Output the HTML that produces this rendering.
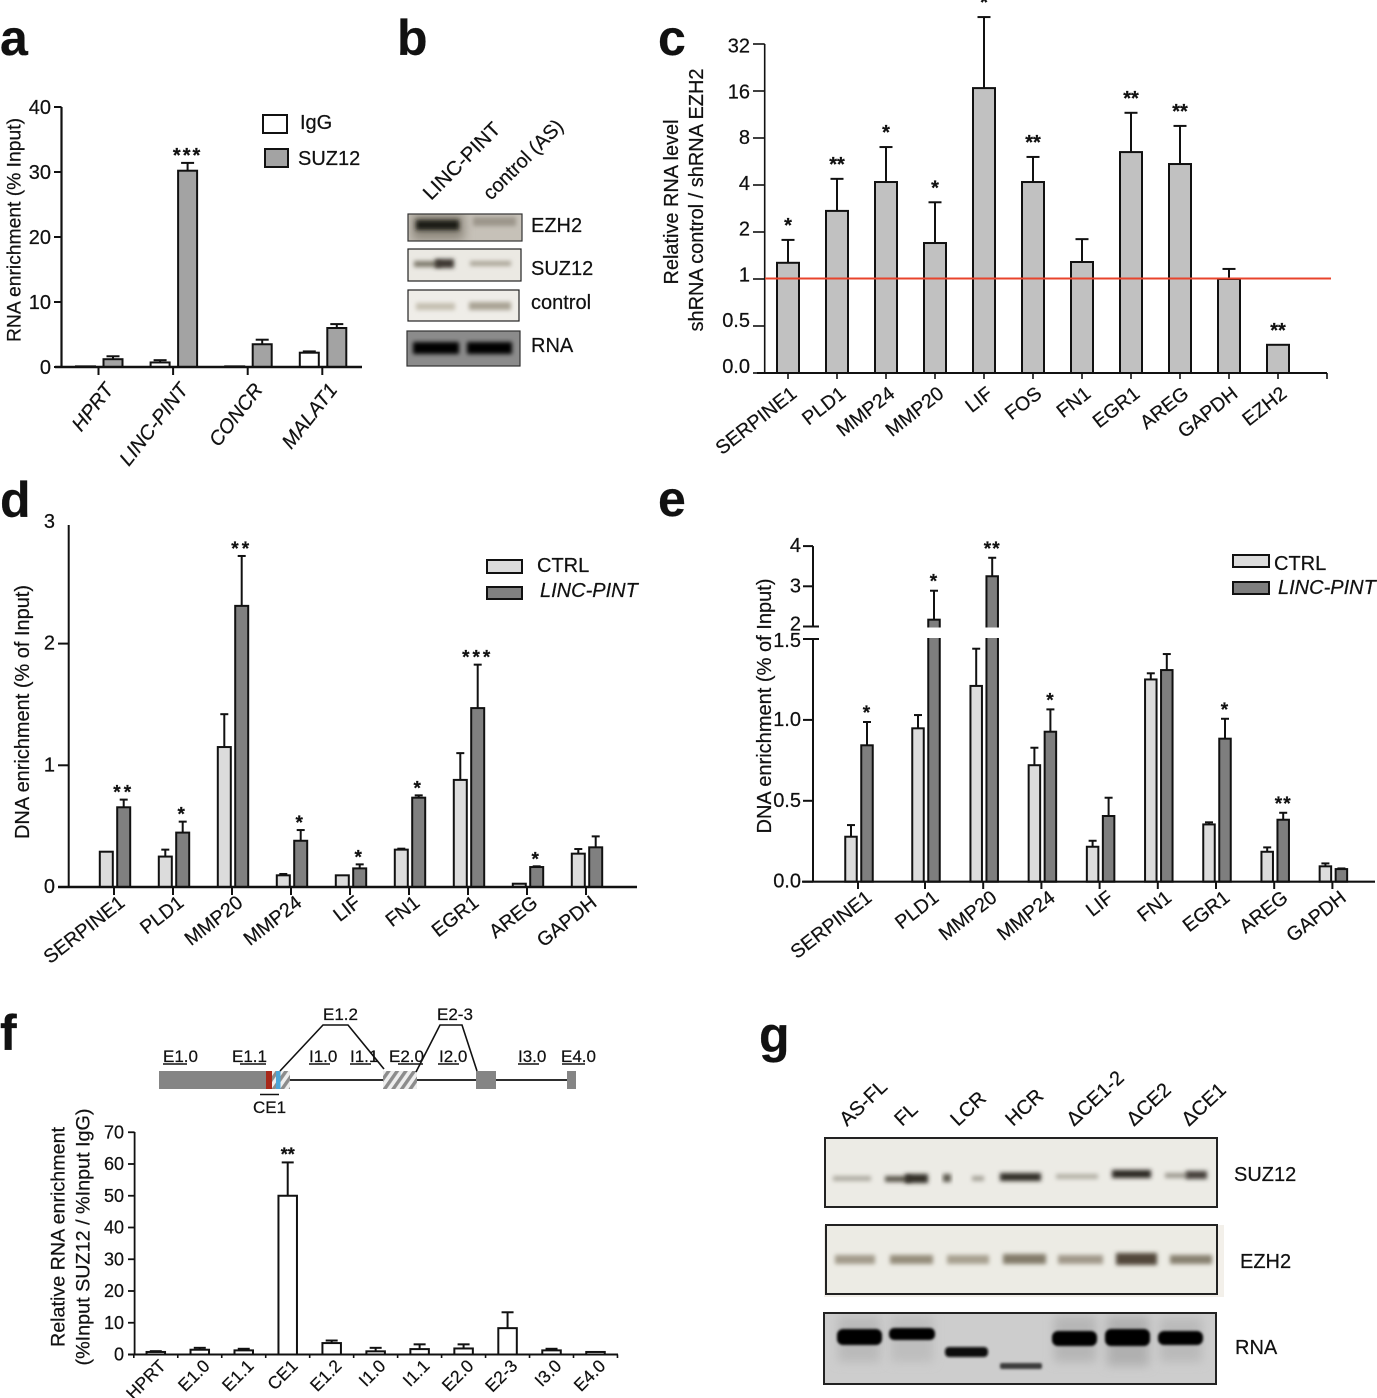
<!DOCTYPE html>
<html lang="en">
<head>
<meta charset="utf-8">
<title>Multi-panel figure</title>
<style>
html,body{margin:0;padding:0;background:#fff;width:1377px;height:1398px;overflow:hidden}
svg{display:block}
text{font-family:"Liberation Sans","DejaVu Sans",sans-serif;fill:#111;stroke:#111;stroke-width:.22px}
.band{filter:url(#blur2)}
.band1{filter:url(#blur1)}
.haze{filter:url(#blur5)}
</style>
</head>
<body>
<svg id="figure" xmlns="http://www.w3.org/2000/svg" width="1377" height="1398" viewBox="0 0 1377 1398">
<defs>
<filter id="blur1" x="-30%" y="-100%" width="160%" height="300%"><feGaussianBlur stdDeviation="1.2"/></filter>
<filter id="blur2" x="-30%" y="-100%" width="160%" height="300%"><feGaussianBlur stdDeviation="2"/></filter>
<filter id="blur5" x="-30%" y="-100%" width="160%" height="300%"><feGaussianBlur stdDeviation="5"/></filter>
<pattern id="hatch" width="7" height="7" patternUnits="userSpaceOnUse" patternTransform="rotate(35)">
<rect width="7" height="7" fill="#efefef"/><rect width="3.4" height="7" fill="#8c8c8c"/>
</pattern>
<clipPath id="clip-b-ezh2"><rect x="408" y="214" width="114" height="27"/></clipPath>
<clipPath id="clip-g-rna"><rect x="824" y="1313" width="392" height="71"/></clipPath>
</defs>

<!-- panel letters -->
<g font-weight="bold" font-size="50">
<text x="0" y="55">a</text>
<text x="397" y="55">b</text>
<text x="658" y="55">c</text>
<text x="0" y="517">d</text>
<text x="658" y="516">e</text>
<text x="0" y="1050">f</text>
<text x="759" y="1052">g</text>
</g>

<!-- panel b blots -->
<g>
<text font-size="20" transform="rotate(-45 431 201)" x="431" y="201" textLength="100" lengthAdjust="spacingAndGlyphs">LINC-PINT</text>
<text font-size="20" transform="rotate(-45 491 201)" x="491" y="201" textLength="104" lengthAdjust="spacingAndGlyphs">control (AS)</text>

<g>
<rect x="408" y="214" width="114" height="27" fill="#c6c1b8"/>
<g clip-path="url(#clip-b-ezh2)">
<rect class="haze" x="412" y="214" width="52" height="26" fill="#8d877c"/>
<rect class="band" x="416" y="220" width="43" height="10" fill="#1f1a15"/>
<rect class="band" x="473" y="217" width="43" height="9" fill="#9c968b"/>
</g>
<rect x="408" y="214" width="114" height="27" fill="none" stroke="#333" stroke-width="1.2"/>
</g>
<g>
<rect x="408" y="249" width="113" height="32" fill="#ebe9e3"/>
<rect class="band" x="414" y="261" width="27" height="6" fill="#7f7a6d"/>
<rect class="band" x="435" y="259" width="19" height="9" fill="#3e3930"/>
<rect class="band" x="470" y="261" width="41" height="5" fill="#aba699"/>
<rect x="408" y="249" width="113" height="32" fill="none" stroke="#222" stroke-width="1.2"/>
</g>
<g>
<rect x="408" y="290" width="111" height="31" fill="#efede8"/>
<rect class="band" x="416" y="303" width="39" height="7" fill="#c4bfb0"/>
<rect class="band" x="469" y="302" width="42" height="8" fill="#a9a394"/>
<rect x="408" y="290" width="111" height="31" fill="none" stroke="#222" stroke-width="1.2"/>
</g>
<g>
<rect x="407" y="331" width="113" height="35" fill="#8b8b8b"/>
<rect class="band" x="413" y="342" width="46" height="12" fill="#050505"/>
<rect class="band" x="467" y="342" width="45" height="12" fill="#050505"/>
<rect x="407" y="331" width="113" height="35" fill="none" stroke="#333" stroke-width="1.2"/>
</g>
<text font-size="20" x="531" y="232">EZH2</text>
<text font-size="20" x="531" y="275">SUZ12</text>
<text font-size="20" x="531" y="309">control</text>
<text font-size="20" x="531" y="352">RNA</text>
</g>

<!-- panel f gene diagram -->
<g font-size="17">
<line x1="290" y1="1080" x2="567" y2="1080" stroke="#111" stroke-width="1.8"/>
<rect x="159" y="1071" width="107" height="18" fill="#858585"/>
<rect x="271" y="1071" width="19" height="18" fill="url(#hatch)"/>
<rect x="266" y="1071" width="6" height="18" fill="#a8281a"/>
<rect x="276" y="1071" width="4.5" height="18" fill="#4da6d8"/>
<rect x="383" y="1071" width="34" height="18" fill="url(#hatch)"/>
<rect x="476" y="1071" width="20" height="18" fill="#858585"/>
<rect x="567" y="1071" width="9" height="18" fill="#858585"/>
<polyline points="280,1071 323,1025 348,1025 384,1069" fill="none" stroke="#111" stroke-width="1.6"/>
<polyline points="416,1072 440,1025 462,1025 477,1071" fill="none" stroke="#111" stroke-width="1.6"/>
<text x="163" y="1062">E1.0</text>
<text x="232" y="1062">E1.1</text>
<text x="309" y="1062">I1.0</text>
<text x="350" y="1062">I1.1</text>
<text x="389" y="1062">E2.0</text>
<text x="439" y="1062">I2.0</text>
<text x="518" y="1062">I3.0</text>
<text x="561" y="1062">E4.0</text>
<text x="323" y="1020">E1.2</text>
<text x="437" y="1020">E2-3</text>
<text x="253" y="1113">CE1</text>
<g stroke="#111" stroke-width="1.6">
<line x1="163" y1="1064" x2="187" y2="1064"/>
<line x1="240" y1="1064" x2="266" y2="1064"/>
<line x1="309" y1="1064" x2="330" y2="1064"/>
<line x1="350" y1="1064" x2="371" y2="1064"/>
<line x1="398" y1="1064" x2="423" y2="1064"/>
<line x1="438" y1="1064" x2="459" y2="1064"/>
<line x1="518" y1="1064" x2="539" y2="1064"/>
<line x1="562" y1="1064" x2="585" y2="1064"/>
<line x1="260" y1="1094.5" x2="279" y2="1094.5"/>
</g>
</g>

<!-- panel g blots -->
<g>
<text font-size="20" transform="rotate(-43 847 1127)" x="847" y="1127">AS-FL</text>
<text font-size="20" transform="rotate(-43 902 1127)" x="902" y="1127">FL</text>
<text font-size="20" transform="rotate(-43 958 1127)" x="958" y="1127">LCR</text>
<text font-size="20" transform="rotate(-43 1013 1127)" x="1013" y="1127">HCR</text>
<text font-size="20" transform="rotate(-43 1074 1127)" x="1074" y="1127">ΔCE1-2</text>
<text font-size="20" transform="rotate(-43 1134 1127)" x="1134" y="1127">ΔCE2</text>
<text font-size="20" transform="rotate(-43 1189 1127)" x="1189" y="1127">ΔCE1</text>

<g>
<rect x="825" y="1138" width="392" height="69" fill="#ecebe5"/>
<rect class="band" x="833" y="1176" width="38" height="5" fill="#aeaba1"/>
<rect class="band" x="885" y="1176" width="26" height="6" fill="#5c584e"/>
<rect class="band" x="905" y="1174" width="23" height="9" fill="#322e27"/>
<rect class="band" x="943" y="1174" width="8" height="8" fill="#5c584e"/>
<rect class="band" x="972" y="1176" width="12" height="5" fill="#a5a298"/>
<rect class="band" x="1000" y="1173" width="41" height="8" fill="#322e27"/>
<rect class="band" x="1056" y="1174" width="42" height="5" fill="#b3b0a6"/>
<rect class="band" x="1112" y="1170" width="39" height="8" fill="#2c2822"/>
<rect class="band" x="1165" y="1173" width="24" height="5" fill="#9c998f"/>
<rect class="band" x="1186" y="1171" width="21" height="8" fill="#45413a"/>
<rect x="825" y="1138" width="392" height="69" fill="none" stroke="#222" stroke-width="2"/>
</g>
<g>
<rect x="824" y="1225" width="400" height="72" fill="#f3f0ea"/>
<rect x="826" y="1225" width="391" height="69" fill="#ecebe4"/>
<rect class="band" x="835" y="1255" width="40" height="9" fill="#a39b8b"/>
<rect class="band" x="890" y="1255" width="43" height="9" fill="#958d7c"/>
<rect class="band" x="947" y="1255" width="42" height="9" fill="#a8a191"/>
<rect class="band" x="1003" y="1254" width="43" height="10" fill="#837b6a"/>
<rect class="band" x="1058" y="1255" width="45" height="9" fill="#a1998a"/>
<rect class="band" x="1116" y="1253" width="41" height="12" fill="#51473a"/>
<rect class="band" x="1170" y="1255" width="42" height="9" fill="#878070"/>
<rect x="826" y="1225" width="391" height="69" fill="none" stroke="#222" stroke-width="2"/>
</g>
<g>
<rect x="824" y="1313" width="392" height="71" fill="#cdcdcd"/>
<g clip-path="url(#clip-g-rna)">
<rect class="haze" x="838" y="1316" width="42" height="46" fill="#bababa"/>
<rect class="haze" x="891" y="1316" width="42" height="46" fill="#bebebe"/>
<rect class="haze" x="1054" y="1316" width="42" height="46" fill="#b6b6b6"/>
<rect class="haze" x="1107" y="1316" width="42" height="50" fill="#b0b0b0"/>
<rect class="haze" x="1160" y="1318" width="42" height="44" fill="#bababa"/>
</g>
<rect class="band1" x="837" y="1329" width="45" height="16" rx="6" fill="#050505"/>
<rect class="band1" x="889" y="1328" width="46" height="12" rx="5" fill="#050505"/>
<rect class="band1" x="945" y="1347" width="43" height="10" rx="4" fill="#0c0c0c"/>
<rect class="band1" x="1000" y="1363" width="42" height="6" rx="2" fill="#3a3a3a"/>
<rect class="band1" x="1052" y="1331" width="45" height="15" rx="6" fill="#050505"/>
<rect class="band1" x="1105" y="1329" width="45" height="17" rx="6" fill="#050505"/>
<rect class="band1" x="1158" y="1331" width="45" height="14" rx="6" fill="#050505"/>
<rect x="824" y="1313" width="392" height="71" fill="none" stroke="#222" stroke-width="2"/>
</g>
<text font-size="20" x="1234" y="1181">SUZ12</text>
<text font-size="20" x="1240" y="1268">EZH2</text>
<text font-size="20" x="1235" y="1354">RNA</text>
</g>
</svg>

<script>
/* ---------- panel a data ---------- */
const aCategories = ['HPRT', 'LINC-PINT', 'CONCR', 'MALAT1'];
const aIgG = [0.1, 0.7, 0.1, 2.2];
const aIgGUpper = [0.15, 1.05, 0.15, 2.4];
const aSuz12 = [1.2, 30.2, 3.5, 6.0];
const aSuz12Upper = [1.65, 31.4, 4.2, 6.6];
const aStars = ['', '***', '', ''];
const aTicks = [0, 10, 20, 30, 40];

/* ---------- panel c data ---------- */
const cCategories = ['SERPINE1', 'PLD1', 'MMP24', 'MMP20', 'LIF', 'FOS', 'FN1', 'EGR1', 'AREG', 'GAPDH', 'EZH2'];
const cValues = [1.27, 2.73, 4.18, 1.70, 16.7, 4.18, 1.285, 6.5, 5.45, 1.0, 0.3];
const cUpper = [1.78, 4.38, 7.0, 3.1, 47.6, 6.05, 1.8, 11.6, 9.56, 1.16, 0.3];
const cStars = ['*', '**', '*', '*', '*', '**', '', '**', '**', '', '**'];
const cTicks = [0, 0.5, 1, 2, 4, 8, 16, 32];
const cTickLabels = ['0.0', '0.5', '1', '2', '4', '8', '16', '32'];
const cReference = 1;

/* ---------- panel d data ---------- */
const dCategories = ['SERPINE1', 'PLD1', 'MMP20', 'MMP24', 'LIF', 'FN1', 'EGR1', 'AREG', 'GAPDH'];
const dCtrl = [0.29, 0.25, 1.15, 0.096, 0.096, 0.307, 0.88, 0.027, 0.274];
const dCtrlUpper = [0.29, 0.307, 1.42, 0.107, 0.10, 0.315, 1.10, 0.03, 0.312];
const dPint = [0.655, 0.447, 2.31, 0.38, 0.153, 0.734, 1.47, 0.164, 0.326];
const dPintUpper = [0.718, 0.537, 2.72, 0.468, 0.186, 0.753, 1.827, 0.17, 0.416];
const dStars = ['**', '*', '**', '*', '*', '*', '***', '*', ''];
const dTicks = [0, 1, 2, 3];

/* ---------- panel e data ---------- */
const eCategories = ['SERPINE1', 'PLD1', 'MMP20', 'MMP24', 'LIF', 'FN1', 'EGR1', 'AREG', 'GAPDH'];
const eCtrl = [0.278, 0.948, 1.21, 0.72, 0.216, 1.25, 0.354, 0.185, 0.095];
const eCtrlUpper = [0.35, 1.03, 1.44, 0.828, 0.253, 1.288, 0.367, 0.212, 0.113];
const ePint = [0.843, 2.17, 3.25, 0.927, 0.406, 1.308, 0.884, 0.383, 0.078];
const ePintUpper = [0.987, 2.89, 3.71, 1.065, 0.519, 1.407, 1.007, 0.426, 0.082];
const eStars = ['*', '*', '**', '*', '', '', '*', '**', ''];
const eTicks = [0, 0.5, 1, 1.5, 2, 3, 4];
const eTickLabels = ['0.0', '0.5', '1.0', '1.5', '2', '3', '4'];

/* ---------- panel f data ---------- */
const fCategories = ['HPRT', 'E1.0', 'E1.1', 'CE1', 'E1.2', 'I1.0', 'I1.1', 'E2.0', 'E2-3', 'I3.0', 'E4.0'];
const fValues = [0.8, 1.5, 1.3, 50, 3.6, 1, 1.7, 1.9, 8.3, 1.3, 0.8];
const fUpper = [1.05, 2.1, 1.8, 60.5, 4.4, 2.1, 3.2, 3.2, 13.3, 1.8, 0.95];
const fStars = ['', '', '', '**', '', '', '', '', '', '', ''];
const fTicks = [0, 10, 20, 30, 40, 50, 60, 70];

/* ---------- drawing helpers ---------- */
const NS = 'http://www.w3.org/2000/svg';
const figure = document.getElementById('figure');

function shape(parent, tag, geometry, name) {
  const el = document.createElementNS(NS, tag);
  for (const k in geometry) el.setAttribute(k, geometry[k]);
  
  
  parent.appendChild(el);
  return el;
}

function group(name) {
  const el = document.createElementNS(NS, 'g');
  
  
  figure.appendChild(el);
  return el;
}

function seg(parent, x1, y1, x2, y2, w, name, color) {
  return shape(parent, 'line', {x1: x1, y1: y1, x2: x2, y2: y2, stroke: color || '#111', 'stroke-width': w}, name);
}

function label(parent, str, x, y, size, name, opts) {
  const o = opts || {};
  const g = {x: x, y: y, 'font-size': size};
  if (o.anchor) g['text-anchor'] = o.anchor;
  if (o.italic) g['font-style'] = 'italic';
  if (o.bold) g['font-weight'] = 'bold';
  if (o.rot) g.transform = 'rotate(' + o.rot + ' ' + x + ' ' + y + ')';
  if (o.len) { g.textLength = o.len; g.lengthAdjust = 'spacingAndGlyphs'; }
  if (o.spacing) g['letter-spacing'] = o.spacing;
  const el = shape(parent, 'text', g, name);
  el.textContent = str;
  return el;
}

function bar(parent, cx, w, yTop, yBase, fill, sw, name) {
  return shape(parent, 'rect', {x: cx - w / 2, y: yTop, width: w, height: yBase - yTop, fill: fill, stroke: '#111', 'stroke-width': sw}, name);
}

function errorBar(parent, cx, yVal, yUp, cap, sw, name) {
  if (yVal - yUp < 0.5) return;
  seg(parent, cx, yVal, cx, yUp, sw, name + '-stem');
  seg(parent, cx - cap / 2, yUp, cx + cap / 2, yUp, sw, name + '-cap');
}

/* Draw one bar series: values/upper arrays through x & y axis functions */
function series(parent, p) {
  p.values.forEach(function (v, i) {
    const cx = p.x(i) + p.offset;
    errorBar(parent, cx, p.y(v), p.y(p.upper[i]), p.cap, p.sw, p.name + '-error-' + i);
    bar(parent, cx, p.width, p.y(v), p.base, p.fill, p.sw, p.name + '-bar-' + i);
    if (p.stars && p.stars[i]) {
      label(parent, p.stars[i], cx, p.y(p.upper[i]) - p.starGap, p.starSize, p.name + '-significance-' + i,
        {anchor: 'middle', spacing: p.starSpacing || 0, bold: true});
    }
  });
}

function legendEntry(parent, x, y, w, h, fill, str, tx, ty, italic, name) {
  shape(parent, 'rect', {x: x, y: y, width: w, height: h, fill: fill, stroke: '#111', 'stroke-width': 2}, name + '-swatch');
  label(parent, str, tx, ty, 20, name + '-label', {italic: italic});
}

/* ---------- panel a ---------- */
(function () {
  const g = group('panel-a-chart');
  const y = function (v) { return 367 - v * 6.5; };
  const x = function (i) { return 99.5 + 74.6 * i; };
  series(g, {values: aIgG, upper: aIgGUpper, x: x, y: y, offset: -14, width: 19, base: 367, fill: '#fff', sw: 2, cap: 13, name: 'igg'});
  series(g, {values: aSuz12, upper: aSuz12Upper, x: x, y: y, offset: 13.5, width: 19, base: 367, fill: '#a3a3a3', sw: 2, cap: 13, name: 'suz12',
    stars: aStars, starGap: 1, starSize: 20, starSpacing: 2});
  seg(g, 61.5, 107, 61.5, 368, 2.2, 'y-axis');
  seg(g, 55, 367, 362, 367, 2.6, 'x-axis');
  aTicks.forEach(function (t) {
    seg(g, 54, y(t), 61.5, y(t), 2, 'y-tick-' + t);
    label(g, String(t), 51, y(t) + 7, 20, 'y-tick-label-' + t, {anchor: 'end'});
  });
  aCategories.forEach(function (c, i) {
    seg(g, x(i) - 1, 367, x(i) - 1, 375, 2, 'x-tick-' + c);
    label(g, c, x(i) + 15, 390, 20, 'x-tick-label-' + c, {anchor: 'end', italic: true, rot: -52});
  });
  label(g, 'RNA enrichment  (% Input)', 20.5, 230, 19, 'y-axis-title', {anchor: 'middle', rot: -90, len: 224});
  legendEntry(g, 263, 115, 24, 18, '#fff', 'IgG', 300, 129, false, 'legend-igg');
  legendEntry(g, 265, 149, 23, 18, '#a3a3a3', 'SUZ12', 298, 165, false, 'legend-suz12');
})();

/* ---------- panel c ---------- */
(function () {
  const g = group('panel-c-chart');
  const y = function (v) { return v >= 1 ? 279 - 47 * Math.log2(v) : 373 - 94 * v; };
  const x = function (i) { return 788 + 49 * i; };
  series(g, {values: cValues, upper: cUpper, x: x, y: y, offset: 0, width: 22, base: 373, fill: '#c1c1c1', sw: 2, cap: 13, name: 'expression',
    stars: cStars, starGap: 8, starSize: 20});
  seg(g, 764.7, 44, 764.7, 374, 1.6, 'y-axis');
  seg(g, 757, 373, 1327, 373, 2, 'x-axis');
  cTicks.forEach(function (t, i) {
    seg(g, 753, y(t), 764.7, y(t), 1.6, 'y-tick-' + t);
    const drift = 1.6 - 8.6 * (y(t) - 44) / 329;
    label(g, cTickLabels[i], 750, y(t) + drift + 7, 20, 'y-tick-label-' + t, {anchor: 'end'});
  });
  cCategories.forEach(function (c, i) {
    seg(g, x(i), 373, x(i), 379, 1.6, 'x-tick-' + c);
    label(g, c, x(i) + 10, 396, 19.5, 'x-tick-label-' + c, {anchor: 'end', rot: -38});
  });
  seg(g, x(11), 373, x(11), 379, 1.6, 'x-axis-end-tick');
  seg(g, 765, y(cReference) - 0.5, 1331, y(cReference) - 0.5, 2, 'reference-line', '#e8442c');
  label(g, 'Relative RNA level', 678, 202, 20, 'y-axis-title-line-1', {anchor: 'middle', rot: -90, len: 165});
  label(g, 'shRNA control / shRNA EZH2', 703, 200, 20, 'y-axis-title-line-2', {anchor: 'middle', rot: -90, len: 263});
})();

/* ---------- panel d ---------- */
(function () {
  const g = group('panel-d-chart');
  const y = function (v) { return 887 - v * 121.7; };
  const x = function (i) { return 115 + 59 * i; };
  series(g, {values: dCtrl, upper: dCtrlUpper, x: x, y: y, offset: -8.7, width: 13, base: 887, fill: '#dcdcdc', sw: 2, cap: 8, name: 'ctrl'});
  series(g, {values: dPint, upper: dPintUpper, x: x, y: y, offset: 8.7, width: 13, base: 887, fill: '#808080', sw: 2, cap: 8, name: 'linc-pint',
    stars: dStars, starGap: 1, starSize: 19, starSpacing: 3});
  seg(g, 68.7, 525, 68.7, 888, 2, 'y-axis');
  seg(g, 58, 887, 637, 887, 2.4, 'x-axis');
  dTicks.forEach(function (t) {
    if (t < 3) seg(g, 58, y(t), 68.7, y(t), 2, 'y-tick-' + t);
    label(g, String(t), 55, y(t) + 6, 20, 'y-tick-label-' + t, {anchor: 'end'});
  });
  dCategories.forEach(function (c, i) {
    seg(g, x(i) - 1, 887, x(i) - 1, 895, 2, 'x-tick-' + c);
    label(g, c, x(i) + 11, 905, 19.5, 'x-tick-label-' + c, {anchor: 'end', rot: -38});
  });
  label(g, 'DNA enrichment (% of Input)', 29, 712, 20, 'y-axis-title', {anchor: 'middle', rot: -90, len: 254});
  legendEntry(g, 487, 560, 35, 13, '#dcdcdc', 'CTRL', 537, 572, false, 'legend-ctrl');
  legendEntry(g, 487, 587, 35, 12, '#808080', 'LINC-PINT', 540, 597, true, 'legend-linc-pint');
})();

/* ---------- panel e ---------- */
(function () {
  const g = group('panel-e-chart');
  const breakLow = 1.5;
  const breakHigh = 2;
  const y = function (v) { return v <= breakLow ? 881.7 - v * 161.8 : 626.5 - (v - breakHigh) * 40.2; };
  const x = function (i) { return i === 0 ? 859 : 867.8 + 58.2 * i; };
  series(g, {values: eCtrl, upper: eCtrlUpper, x: x, y: y, offset: -8, width: 11.5, base: 881.7, fill: '#dcdcdc', sw: 2, cap: 8, name: 'ctrl'});
  series(g, {values: ePint, upper: ePintUpper, x: x, y: y, offset: 8, width: 11.5, base: 881.7, fill: '#7e7e7e', sw: 2, cap: 8, name: 'linc-pint',
    stars: eStars, starGap: 3, starSize: 19, starSpacing: 1});
  ePint.forEach(function (v, i) {
    if (v > breakLow) {
      shape(g, 'rect', {x: x(i) + 8 - 9, y: y(breakHigh) + 1, width: 18, height: y(breakLow) - y(breakHigh) - 2, fill: '#fff'}, 'axis-break-gap-' + i);
    }
  });
  seg(g, 813, y(4), 813, y(breakHigh), 2, 'y-axis-upper');
  seg(g, 813, y(breakLow), 813, 882.5, 2, 'y-axis-lower');
  seg(g, 802, 881.7, 1375, 881.7, 2.2, 'x-axis');
  eTicks.forEach(function (t, i) {
    const isBreak = t === breakLow || t === breakHigh;
    seg(g, 803, y(t), isBreak ? 819 : 813, y(t), 2, 'y-tick-' + t);
    const dy = t === breakHigh ? 4 : (t === breakLow ? 8 : 6);
    label(g, eTickLabels[i], 801, y(t) + dy, 20, 'y-tick-label-' + t, {anchor: 'end'});
  });
  eCategories.forEach(function (c, i) {
    seg(g, x(i) - 1, 881.7, x(i) - 1, 889, 2, 'x-tick-' + c);
    label(g, c, x(i) + 14, 900, 19.5, 'x-tick-label-' + c, {anchor: 'end', rot: -38});
  });
  label(g, 'DNA enrichment (% of Input)', 771, 706, 20, 'y-axis-title', {anchor: 'middle', rot: -90, len: 255});
  legendEntry(g, 1233, 555, 36, 12, '#dcdcdc', 'CTRL', 1274, 570, false, 'legend-ctrl');
  legendEntry(g, 1233, 582, 36, 12, '#7e7e7e', 'LINC-PINT', 1278, 594, true, 'legend-linc-pint');
})();

/* ---------- panel f ---------- */
(function () {
  const g = group('panel-f-chart');
  const y = function (v) { return 1354.5 - v * 3.175; };
  const x = function (i) { return 155.8 + 43.97 * i; };
  series(g, {values: fValues, upper: fUpper, x: x, y: y, offset: 0, width: 18.5, base: 1354.5, fill: '#fff', sw: 2, cap: 12, name: 'enrichment',
    stars: fStars, starGap: 2, starSize: 18});
  seg(g, 134.6, 1132, 134.6, 1355, 1.8, 'y-axis');
  seg(g, 128, 1354.5, 618, 1354.5, 2, 'x-axis');
  fTicks.forEach(function (t) {
    seg(g, 128, y(t), 134.6, y(t), 1.8, 'y-tick-' + t);
    label(g, String(t), 124, y(t) + 6, 18, 'y-tick-label-' + t, {anchor: 'end'});
  });
  for (let i = 0; i <= fCategories.length; i++) {
    seg(g, x(i) - 22, 1354.5, x(i) - 22, 1358, 1.6, 'x-tick-' + i);
  }
  fCategories.forEach(function (c, i) {
    label(g, c, x(i) + 11, 1367, 17.5, 'x-tick-label-' + c, {anchor: 'end', rot: -45});
  });
  label(g, 'Relative RNA enrichment', 64.5, 1237, 19, 'y-axis-title-line-1', {anchor: 'middle', rot: -90, len: 220});
  label(g, '(%Input SUZ12 / %Input IgG)', 89.5, 1237, 19, 'y-axis-title-line-2', {anchor: 'middle', rot: -90, len: 257});
})();
</script>
</body>
</html>
